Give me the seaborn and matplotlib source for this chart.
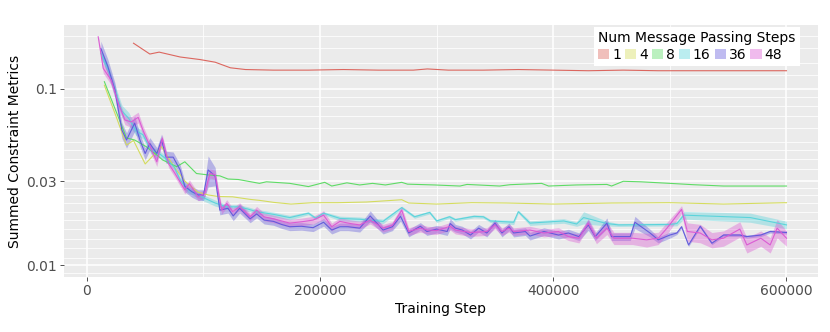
import numpy as np
import pandas as pd
import seaborn as sns
import matplotlib.pyplot as plt
from matplotlib.patches import Patch
from matplotlib.ticker import FixedLocator

# group labels (number of message passing steps)
groups = ['1', '4', '8', '16', '36', '48']

# --- 1 step
x_1 = [40000, 54000, 62000, 80000, 97000, 110000, 123000, 136000, 160000, 190000,
       220000, 250000, 280000, 292000, 310000, 340000, 370000, 400000, 430000, 460000,
       490000, 520000, 550000, 580000, 600000]
y_1 = [0.182, 0.158, 0.162, 0.152, 0.147, 0.142, 0.132, 0.129, 0.128, 0.128,
       0.129, 0.128, 0.128, 0.130, 0.128, 0.128, 0.129, 0.128, 0.127, 0.128,
       0.127, 0.127, 0.127, 0.127, 0.127]

# --- 4 steps
x_4 = [15000, 25000, 34000, 40000, 50000, 64000, 75000, 84000, 95000, 104000,
       113000, 125000, 140000, 148000, 160000, 175000, 194000, 215000, 240000, 262000,
       270000, 276000, 300000, 330000, 360000, 400000, 450000, 500000, 546000, 600000]
y_4 = [0.105, 0.070, 0.048, 0.051, 0.0375, 0.047, 0.036, 0.030, 0.026, 0.0250,
       0.0245, 0.0244, 0.0236, 0.0233, 0.0227, 0.0222, 0.0226, 0.0226, 0.0228, 0.0233,
       0.0235, 0.0225, 0.0222, 0.0226, 0.0225, 0.0222, 0.0225, 0.0226, 0.0222, 0.0226]

# --- 8 steps
x_8 = [15000, 34000, 41000, 51000, 60000, 65000, 77000, 84000, 94000, 104000,
       114000, 121000, 130000, 148000, 154000, 174000, 190000, 204000, 210000, 223000,
       234000, 245000, 256000, 270000, 275000, 298000, 320000, 326000, 354000, 363000,
       390000, 396000, 420000, 446000, 450000, 460000, 475000, 500000, 520000, 546000,
       600000]
y_8 = [0.110, 0.0527, 0.0513, 0.0470, 0.0422, 0.0395, 0.0362, 0.0386, 0.0331, 0.0325,
       0.0321, 0.0308, 0.0306, 0.0291, 0.0297, 0.0291, 0.0279, 0.0295, 0.0281, 0.0293,
       0.0285, 0.0291, 0.0285, 0.0295, 0.0288, 0.0285, 0.0281, 0.0287, 0.0281, 0.0286,
       0.0291, 0.0281, 0.0285, 0.0287, 0.0281, 0.0299, 0.0297, 0.0291, 0.0286, 0.0281,
       0.0281]

# --- 16 steps (mean and relative band half-width)
x_16 = [12000, 18000, 24000, 30000, 36000, 42000, 48000, 55000, 62000, 68000,
        75000, 80000, 86000, 93000, 100000, 110000, 120000, 130000, 138000, 145600,
        160000, 174000, 190000, 196000, 203000, 217000, 234000, 254000, 270000, 281000,
        294000, 300000, 311000, 316000, 332000, 340000, 346000, 366000, 370000, 380000,
        409000, 420000, 426000, 446000, 456000, 500000, 506000, 512000, 569000, 600000]
y_16 = [0.160, 0.130, 0.100, 0.075, 0.068, 0.058, 0.055, 0.045, 0.043, 0.040,
        0.036, 0.0304, 0.027, 0.0255, 0.0241, 0.0225, 0.0214, 0.0214, 0.0208, 0.0201,
        0.0194, 0.0186, 0.0197, 0.0185, 0.0197, 0.0184, 0.0182, 0.0177, 0.0212, 0.0188,
        0.0199, 0.0178, 0.0188, 0.0181, 0.0189, 0.0188, 0.0178, 0.0175, 0.0201, 0.0173,
        0.0178, 0.0171, 0.0186, 0.0172, 0.0169, 0.0170, 0.0172, 0.0192, 0.0186, 0.0169]
s_16 = [0.06, 0.06, 0.06, 0.08, 0.08, 0.06, 0.05, 0.05, 0.04, 0.04,
        0.04, 0.04, 0.04, 0.04, 0.04, 0.04, 0.03, 0.03, 0.03, 0.03,
        0.03, 0.03, 0.02, 0.02, 0.02, 0.03, 0.03, 0.03, 0.02, 0.02,
        0.02, 0.02, 0.02, 0.02, 0.02, 0.02, 0.02, 0.03, 0.02, 0.03,
        0.03, 0.03, 0.08, 0.03, 0.02, 0.02, 0.03, 0.05, 0.06, 0.05]

# --- 36 steps
x_36 = [12000, 18000, 24000, 30000, 34000, 41000, 45500, 50000, 54000, 60000,
        64000, 68000, 74000, 80000, 84000, 90000, 95500, 100000, 104000, 110000,
        114000, 121000, 125500, 131000, 140000, 145600, 152000, 160000, 167000, 174000,
        184000, 194000, 203000, 210000, 217000, 224000, 234000, 243000, 254000, 262000,
        269000, 276000, 286000, 291600, 300000, 309000, 311600, 316000, 322000, 329000,
        336000, 343000, 350000, 356000, 362000, 366000, 376000, 380000, 392000, 404500,
        413000, 422000, 430000, 436000, 446000, 450000, 466000, 470000, 483000, 490000,
        500000, 506000, 510000, 516000, 526000, 536000, 546000, 560000, 566000, 578000,
        586000, 600000]
y_36 = [0.170, 0.134, 0.099, 0.0585, 0.0513, 0.064, 0.0513, 0.043, 0.049, 0.043,
        0.0513, 0.041, 0.041, 0.0347, 0.028, 0.0261, 0.025, 0.025, 0.0347, 0.032,
        0.0205, 0.021, 0.019, 0.021, 0.0183, 0.0195, 0.018, 0.0177, 0.017, 0.0165,
        0.0166, 0.0163, 0.0175, 0.0158, 0.0165, 0.0165, 0.0162, 0.019, 0.0158, 0.0165,
        0.0189, 0.0152, 0.0166, 0.0155, 0.0160, 0.0155, 0.0172, 0.0162, 0.0158, 0.0148,
        0.0162, 0.0152, 0.0173, 0.0152, 0.0165, 0.0152, 0.0155, 0.0146, 0.0155, 0.0148,
        0.0152, 0.0145, 0.0169, 0.0145, 0.0173, 0.0145, 0.0145, 0.0175, 0.0152, 0.0139,
        0.0148, 0.0152, 0.0165, 0.0130, 0.0166, 0.0133, 0.0148, 0.0148, 0.0145, 0.0148,
        0.0155, 0.0153]
s_36 = [0.10, 0.10, 0.10, 0.10, 0.10, 0.10, 0.08, 0.08, 0.08, 0.08,
        0.08, 0.08, 0.07, 0.07, 0.07, 0.07, 0.07, 0.07, 0.20, 0.12,
        0.06, 0.06, 0.06, 0.06, 0.05, 0.05, 0.05, 0.05, 0.05, 0.05,
        0.05, 0.05, 0.05, 0.05, 0.05, 0.05, 0.05, 0.07, 0.05, 0.05,
        0.06, 0.05, 0.05, 0.05, 0.05, 0.05, 0.07, 0.05, 0.05, 0.05,
        0.05, 0.05, 0.05, 0.05, 0.05, 0.05, 0.05, 0.05, 0.05, 0.05,
        0.05, 0.05, 0.07, 0.05, 0.07, 0.05, 0.05, 0.08, 0.05, 0.04,
        0.04, 0.02, 0.02, 0.02, 0.02, 0.02, 0.02, 0.02, 0.02, 0.02,
        0.02, 0.02]

# --- 48 steps
x_48 = [9700, 14000, 21000, 27000, 32600, 38000, 44000, 48000, 55500, 60000,
        64600, 70000, 75500, 84000, 88000, 95500, 101000, 105500, 110000, 115600,
        120000, 125000, 131000, 140000, 145600, 152000, 160000, 167000, 174000, 184000,
        194000, 203000, 210000, 217000, 226000, 234000, 243000, 254000, 262000, 270000,
        276000, 286000, 292000, 300000, 311600, 316000, 329000, 343000, 350000, 356000,
        362000, 366000, 380000, 392000, 404500, 413000, 422000, 430000, 437000, 446000,
        452000, 468000, 480000, 490000, 497500, 510000, 515000, 526000, 536000, 546000,
        560000, 566000, 578000, 586000, 592000, 600000]
y_48 = [0.198, 0.131, 0.112, 0.083, 0.0667, 0.065, 0.069, 0.0585, 0.045, 0.0386,
        0.0525, 0.0377, 0.0332, 0.0267, 0.029, 0.0244, 0.0255, 0.0332, 0.0325, 0.0205,
        0.0224, 0.0201, 0.0215, 0.0188, 0.0205, 0.0188, 0.0183, 0.0178, 0.0173, 0.0176,
        0.0180, 0.0192, 0.0165, 0.0177, 0.0172, 0.0169, 0.0180, 0.0162, 0.0168, 0.0205,
        0.0155, 0.0162, 0.0158, 0.0157, 0.0166, 0.0158, 0.0153, 0.0155, 0.0169, 0.0155,
        0.0162, 0.0155, 0.0158, 0.0152, 0.0155, 0.0145, 0.0142, 0.0173, 0.0142, 0.0162,
        0.0142, 0.0142, 0.0139, 0.0142, 0.0162, 0.0207, 0.0155, 0.0152, 0.0139, 0.0142,
        0.0160, 0.0130, 0.0142, 0.0130, 0.0162, 0.0142]
s_48 = [0.02, 0.06, 0.06, 0.06, 0.06, 0.07, 0.07, 0.06, 0.06, 0.06,
        0.05, 0.05, 0.05, 0.05, 0.05, 0.05, 0.05, 0.06, 0.06, 0.05,
        0.05, 0.05, 0.05, 0.05, 0.05, 0.05, 0.05, 0.05, 0.05, 0.05,
        0.05, 0.06, 0.05, 0.05, 0.05, 0.05, 0.05, 0.05, 0.05, 0.05,
        0.05, 0.05, 0.05, 0.05, 0.05, 0.05, 0.05, 0.05, 0.05, 0.05,
        0.05, 0.05, 0.05, 0.05, 0.05, 0.05, 0.06, 0.06, 0.07, 0.08,
        0.08, 0.08, 0.09, 0.08, 0.08, 0.05, 0.12, 0.12, 0.10, 0.10,
        0.10, 0.10, 0.10, 0.10, 0.12, 0.10]

y_ticks = [0.01, 0.03, 0.1]
y_ticklabels = ['0.01', '0.03', '0.1']
x_ticks = [0, 200000, 400000, 600000]


def build_frame():
    '''
    Long table: each series gets a low and a high run so seaborn draws
    the mean line with a min/max band around it
    '''
    series = {'1': (x_1, y_1, None), '4': (x_4, y_4, None), '8': (x_8, y_8, None),
              '16': (x_16, y_16, s_16), '36': (x_36, y_36, s_36), '48': (x_48, y_48, s_48)}
    rows = []
    for name, (xs, ys, ss) in series.items():
        if ss is None:
            ss = [0.0] * len(xs)
        for x, y, s in zip(xs, ys, ss):
            rows.append((name, 'lo', x, y * (1 - s)))
            rows.append((name, 'hi', x, y * (1 + s)))
    return pd.DataFrame(rows, columns=['steps', 'run', 'step', 'value'])


df = build_frame()
palette = sns.color_palette('hls', len(groups))

fig, ax = plt.subplots(figsize=(8.3, 3.32), dpi=100)
fig.subplots_adjust(left=0.077, right=0.9855, top=0.9247, bottom=0.1657)
ax.set_facecolor('#EBEBEB')

sns.lineplot(data=df, x='step', y='value', hue='steps', hue_order=groups,
             palette=palette, estimator='mean', errorbar=('pi', 100),
             linewidth=0.8, alpha=0.95, err_kws={'alpha': 0.38, 'linewidth': 0},
             legend=False, ax=ax)

ax.set_yscale('log')
ax.set_ylim(0.00855, 0.231)
ax.set_xlim(-19700, 627000)

ax.set_yticks(y_ticks)
ax.set_yticklabels(y_ticklabels)
ax.yaxis.set_minor_locator(FixedLocator([0.009, 0.011, 0.0125, 0.014, 0.016, 0.018, 0.02,
                                         0.0225, 0.025, 0.0275, 0.035, 0.04, 0.045, 0.05,
                                         0.06, 0.07, 0.08, 0.09, 0.12, 0.14, 0.17, 0.2]))
ax.yaxis.set_minor_formatter(plt.NullFormatter())
ax.set_xticks(x_ticks)
ax.set_xticklabels([str(v) for v in x_ticks])
ax.xaxis.set_minor_locator(FixedLocator([100000, 300000, 500000]))

ax.grid(which='major', color='white', linewidth=1.1)
ax.grid(which='minor', color='white', linewidth=0.55)
ax.set_axisbelow(True)
for sp in ax.spines.values():
    sp.set_visible(False)
ax.tick_params(which='major', length=3, width=0.6, color='#333333',
               labelsize=10, labelcolor='#4D4D4D', pad=2)
ax.tick_params(which='minor', length=0)

ax.set_xlabel('Training Step', fontsize=10, labelpad=3)
ax.set_ylabel('Summed Constraint Metrics', fontsize=10, labelpad=3)

# legend with pale filled squares like the ribbons
handles = [Patch(facecolor=c, alpha=0.4, edgecolor='none') for c in palette]
leg = ax.legend(handles, groups, title='Num Message Passing Steps', ncol=6,
                loc='upper right', bbox_to_anchor=(0.976, 0.992), borderaxespad=0,
                fontsize=10, title_fontsize=10, handlelength=0.8, handleheight=0.8,
                handletextpad=0.2, columnspacing=0.3, frameon=True, fancybox=False,
                borderpad=0.3, labelspacing=0.2)
leg.get_frame().set_facecolor('white')
leg.get_frame().set_edgecolor('none')
leg.get_frame().set_alpha(1)
leg._legend_box.align = 'left'

fig.savefig('out.png', dpi=100)
